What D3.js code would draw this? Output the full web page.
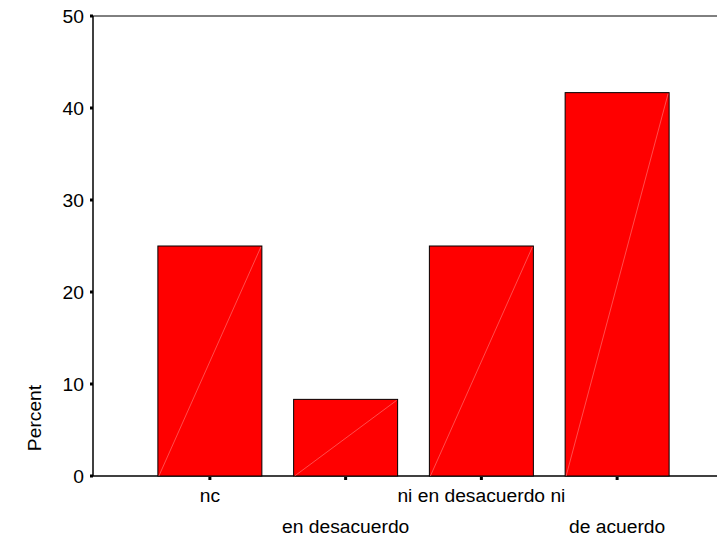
<!DOCTYPE html>
<html><head><meta charset="utf-8">
<script src="https://cdn.jsdelivr.net/npm/d3@7"></script>
<style>body{margin:0;background:#fff}text{font-family:"Liberation Sans",Arial,sans-serif;fill:#000}</style>
</head><body>
<svg id="c" width="717" height="536"></svg>
<script>
const categories = ["nc", "en desacuerdo", "ni en desacuerdo ni", "de acuerdo"];
const percents = [25, 8.33, 25, 41.67];
const yTicks = [0, 10, 20, 30, 40, 50];

const FS = 18, SX = 1.07;
const svg = d3.select("#c");
const y = d3.scaleLinear().domain([0, 50]).range([476, 16]);
const x = d3.scaleBand().domain(categories).range([142, 685]).paddingInner(0.234).paddingOuter(0.117);

// frame lines
svg.append("line").attr("x1", 93).attr("x2", 717).attr("y1", y(50)).attr("y2", y(50)).attr("stroke", "#000").attr("stroke-width", 1);
svg.append("line").attr("x1", 93).attr("x2", 717).attr("y1", y(0)).attr("y2", y(0)).attr("stroke", "#000").attr("stroke-width", 1.5);
svg.append("line").attr("x1", 93).attr("x2", 93).attr("y1", y(50)).attr("y2", y(0)).attr("stroke", "#000").attr("stroke-width", 1.5);

// bars
const g = svg.append("g");
g.selectAll("rect.bar").data(percents).enter().append("rect")
  .attr("x", (d, i) => x(categories[i]))
  .attr("y", d => y(d))
  .attr("width", x.bandwidth())
  .attr("height", d => y(0) - y(d))
  .attr("fill", "#ff0000").attr("stroke", "#000").attr("stroke-width", 1);
g.selectAll("line.diag").data(percents).enter().append("line")
  .attr("x1", (d, i) => x(categories[i]) + 1)
  .attr("y1", y(0))
  .attr("x2", (d, i) => x(categories[i]) + x.bandwidth() - 1)
  .attr("y2", d => y(d) + 1)
  .attr("stroke", "#ff8080").attr("stroke-width", 0.6);

// y ticks
svg.selectAll("rect.yt").data(yTicks).enter().append("rect")
  .attr("x", 90).attr("y", d => y(d) - 1.5).attr("width", 3).attr("height", 3).attr("fill", "#000");
svg.selectAll("text.yl").data(yTicks).enter().append("text")
  .attr("transform", d => `translate(84,${y(d) + 1}) scale(${SX},1)`).attr("dy", "0.36em")
  .attr("text-anchor", "end").attr("font-size", FS).text(d => d);

// x ticks
svg.selectAll("rect.xt").data(categories).enter().append("rect")
  .attr("x", d => x(d) + x.bandwidth() / 2 - 1.5).attr("y", y(0) + 1).attr("width", 3).attr("height", 3).attr("fill", "#000");
svg.selectAll("text.xl").data(categories).enter().append("text")
  .attr("transform", (d, i) => `translate(${x(d) + x.bandwidth() / 2},${i % 2 === 0 ? 502 : 533}) scale(${SX},1)`)
  .attr("text-anchor", "middle").attr("font-size", FS).text(d => d);

// y title
svg.append("text").attr("transform", `translate(41,418) rotate(-90) scale(${SX},1)`)
  .attr("text-anchor", "middle").attr("font-size", FS).text("Percent");
</script>
</body></html>
